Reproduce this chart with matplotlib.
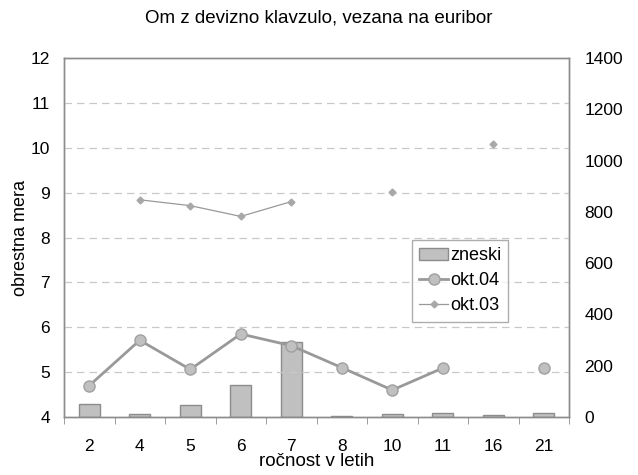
import numpy as np
import matplotlib
matplotlib.use("Agg")
import matplotlib.pyplot as plt

plt.rcParams["font.family"] = ["Liberation Sans", "DejaVu Sans"]

# ---- data -----------------------------------------------------------------
maturities = ["2", "4", "5", "6", "7", "8", "10", "11", "16", "21"]
zneski = [51, 10, 48, 124, 293, 2, 10, 14, 6, 14]
okt04 = [4.70, 5.71, 5.06, 5.85, 5.59, 5.10, 4.60, 5.09, np.nan, 5.09]
okt03 = [np.nan, 8.84, 8.71, 8.47, 8.80, np.nan, 9.01, np.nan, 10.08, np.nan]

x = np.arange(len(maturities))

fig = plt.figure(figsize=(6.38, 4.75), dpi=100)
ax = fig.add_axes([64 / 638, 58 / 475, 505 / 638, 359 / 475])
ax2 = ax.twinx()

# bars on the right axis, behind the lines
ax2.bar(x, zneski, width=0.42, color="#c0c0c0", edgecolor="#8c8c8c",
        linewidth=1.0, label="zneski", zorder=1)
ax.set_zorder(ax2.get_zorder() + 1)
ax.patch.set_visible(False)

ax.plot(x, okt04, color="#999999", lw=2.0, marker="o", ms=8,
        mfc="#c0c0c0", mec="#a0a0a0", label="okt.04", zorder=3)
ax.plot(x, okt03, color="#999999", lw=0.9, marker="D", ms=3.5,
        mfc="#a8a8a8", mec="#a8a8a8", label="okt.03", zorder=3)

ax.set_xlim(-0.5, len(maturities) - 0.5)
ax.set_ylim(4, 12)
ax.set_yticks(range(4, 13))
ax2.set_ylim(0, 1400)
ax2.set_yticks(range(0, 1401, 200))

for v in range(5, 12):
    ax.axhline(v, color="#c8c8c8", lw=0.9, ls=(0, (6, 4)), zorder=0)

ax.set_xticks(x)
ax.set_xticklabels(maturities)
ax.set_xticks(np.arange(-0.5, len(maturities)), minor=True)
ax.tick_params(axis="x", which="major", length=0, pad=16, labelsize=12.5)
ax.tick_params(axis="x", which="minor", length=5, color="#8c8c8c")
ax.tick_params(axis="y", length=0, pad=10, labelsize=12.5)
ax2.tick_params(axis="y", length=0, pad=11, labelsize=12.5)

for a in (ax, ax2):
    for s in a.spines.values():
        s.set_color("#8c8c8c")
        s.set_linewidth(1.0)

ax.set_xlabel("ročnost v letih", fontsize=13.5, labelpad=-1)
ax.set_ylabel("obrestna mera", fontsize=13, labelpad=1)
fig.suptitle("Om z devizno klavzulo, vezana na euribor", fontsize=13.5, y=0.98)

h2, l2 = ax2.get_legend_handles_labels()
h1, l1 = ax.get_legend_handles_labels()
leg = ax.legend(h2 + h1, l2 + l1, loc="upper left",
                bbox_to_anchor=((412 - 64) / 505, (417 - 240) / 359),
                fontsize=13, frameon=True, fancybox=False, borderpad=0.4,
                handlelength=1.6, handletextpad=0.1, labelspacing=0.45,
                borderaxespad=0)
leg.get_frame().set_edgecolor("#999999")
leg.get_frame().set_linewidth(1.0)

fig.savefig("out.png", dpi=100)
